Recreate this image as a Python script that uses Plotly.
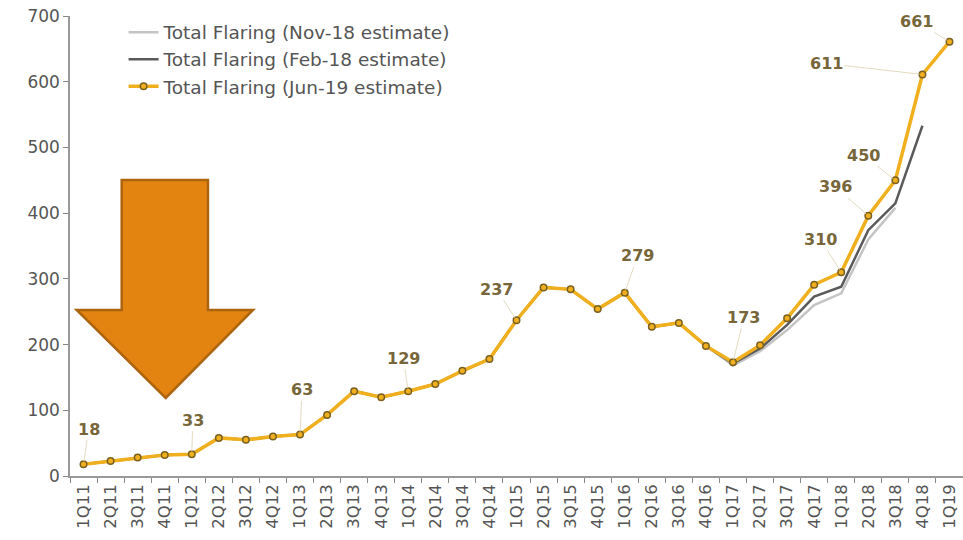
import plotly.graph_objects as go

# Quarterly categories 1Q11 .. 1Q19
quarters = [f"{q}Q{y}" for y in range(11, 20) for q in range(1, 5)][:33]

# Total flaring, Jun-19 estimate
jun19 = [18, 23, 28, 32, 33, 58, 55, 60, 63, 93, 129, 120, 129, 140, 160, 178,
         237, 287, 284, 254, 279, 227, 233, 198, 173, 199, 240, 291, 310, 396, 450, 611, 661]

# Total flaring, Feb-18 estimate (runs to 4Q18)
feb18 = [18, 23, 28, 32, 33, 58, 55, 60, 63, 93, 129, 120, 129, 140, 160, 178,
         237, 287, 284, 254, 279, 227, 233, 198, 171, 194, 230, 273, 288, 374, 415, 533, None]

# Total flaring, Nov-18 estimate (runs to 3Q18)
nov18 = [18, 23, 28, 32, 33, 58, 55, 60, 63, 93, 129, 120, 129, 140, 160, 178,
         237, 287, 284, 254, 279, 227, 233, 198, 168, 190, 222, 260, 278, 360, 408, None, None]

# Labelled points: (quarter, value, label x-offset px, label y-offset px)
labelled = [("1Q11", 18, 5, -35), ("1Q12", 33, 1, -34), ("1Q13", 63, 2, -45),
            ("1Q14", 129, -5, -33), ("1Q15", 237, -20, -31), ("1Q16", 279, 13, -37),
            ("1Q17", 173, 11, -45), ("1Q18", 310, -21, -33), ("2Q18", 396, -33, -29),
            ("3Q18", 450, -32, -25), ("4Q18", 611, -96, -11), ("1Q19", 661, -33, -20)]

GOLD = "#F0B01E"
LABEL = "#77663A"
AXIS_TXT = "#555555"

fig = go.Figure()
fig.add_trace(go.Scatter(x=quarters, y=nov18, mode="lines", name="Total Flaring (Nov-18 estimate)",
                         line=dict(color="#C4C4C4", width=2.5)))
fig.add_trace(go.Scatter(x=quarters, y=feb18, mode="lines", name="Total Flaring (Feb-18 estimate)",
                         line=dict(color="#5A5A5A", width=2.5)))
fig.add_trace(go.Scatter(x=quarters, y=jun19, mode="lines+markers", name="Total Flaring (Jun-19 estimate)",
                         line=dict(color=GOLD, width=3.5),
                         marker=dict(symbol="circle", size=6.5, color=GOLD,
                                     line=dict(color="#7A6020", width=1.5))))

for q, v, ax, ay in labelled:
    fig.add_annotation(x=q, y=v, text=f"<b>{v}</b>", showarrow=True, arrowhead=0,
                       arrowwidth=1, arrowcolor="#E3DCC0", ax=ax, ay=ay, standoff=3,
                       font=dict(family="DejaVu Sans", size=16, color=LABEL))

# Large orange down-arrow callout
arrow_pts = [(0.0579, 0.6435), (0.1545, 0.6435), (0.1545, 0.3609), (0.2049, 0.3609),
             (0.1072, 0.1696), (0.0075, 0.3609), (0.0579, 0.3609)]
path = "M " + " L ".join(f"{x},{y}" for x, y in arrow_pts) + " Z"
fig.add_shape(type="path", path=path, xref="paper", yref="paper",
              fillcolor="#E38410", line=dict(color="#AD640E", width=2.5), layer="above")

fig.update_layout(
    width=963, height=540,
    margin=dict(l=70, r=0, t=16, b=64),
    paper_bgcolor="white", plot_bgcolor="white",
    font=dict(family="DejaVu Sans", color=AXIS_TXT),
    showlegend=True,
    legend=dict(x=0.06, y=1.005, xanchor="left", yanchor="top",
                bgcolor="rgba(0,0,0,0)", font=dict(size=18.5, color=AXIS_TXT),
                tracegroupgap=0, itemwidth=30),
    xaxis=dict(type="category", categoryorder="array", categoryarray=quarters,
               range=[-0.5, 32.5], tickangle=-90, tickson="boundaries",
               ticks="outside", ticklen=5, tickcolor="#888888",
               showline=True, linecolor="#999999", linewidth=1.5,
               showgrid=False, tickfont=dict(size=16.5, color=AXIS_TXT)),
    yaxis=dict(range=[0, 700], dtick=100, ticks="outside", ticklen=5, tickcolor="#888888",
               showline=True, linecolor="#999999", linewidth=1.5, showgrid=False,
               zeroline=False, tickfont=dict(size=17, color=AXIS_TXT)),
)

fig.write_html("out.html")
